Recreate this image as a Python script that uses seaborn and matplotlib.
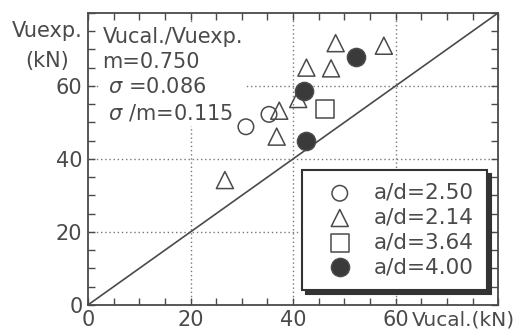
import numpy as np
import pandas as pd
import matplotlib
matplotlib.use('Agg')
import matplotlib.pyplot as plt
import seaborn as sns

# data
vcal_250 = [30.8, 35.3]
vexp_250 = [48.8, 52.2]
vcal_214 = [26.7, 36.8, 37.3, 41.0, 42.6, 47.4, 48.3, 57.7]
vexp_214 = [34.2, 46.1, 53.2, 56.4, 65.0, 64.8, 71.7, 71.0]
vcal_364 = [46.2]
vexp_364 = [53.6]
vcal_400 = [42.1, 42.5, 52.3]
vexp_400 = [58.7, 45.0, 67.9]

labels = ['a/d=2.50', 'a/d=2.14', 'a/d=3.64', 'a/d=4.00']
ticks = [0, 20, 40, 60]
stats_text = 'Vucal./Vuexp.\nm=0.750\n $\\sigma$ =0.086\n $\\sigma$ /m=0.115'

sns.set_theme(style='white')
plt.rcParams['font.family'] = ['DejaVu Sans']
plt.rcParams['mathtext.fontset'] = 'dejavusans'

grey = '#4a4a4a'
fig = plt.figure(figsize=(5.3, 3.3), dpi=100)
ax = fig.add_axes([0.166, 0.076, 0.774, 0.885])

ax.plot([0, 80], [0, 80], color=grey, lw=1.2, zorder=1)
for g in ticks[1:]:
    ax.axvline(g, color='#777777', lw=1.0, ls=(0, (1, 2)), zorder=0)
    ax.axhline(g, color='#777777', lw=1.0, ls=(0, (1, 2)), zorder=0)

df = pd.concat([
    pd.DataFrame({'x': vcal_250, 'y': vexp_250, 'g': labels[0]}),
    pd.DataFrame({'x': vcal_214, 'y': vexp_214, 'g': labels[1]}),
    pd.DataFrame({'x': vcal_364, 'y': vexp_364, 'g': labels[2]}),
    pd.DataFrame({'x': vcal_400, 'y': vexp_400, 'g': labels[3]}),
])

styles = {
    labels[0]: dict(marker='o', s=125, fc='none'),
    labels[1]: dict(marker='^', s=150, fc='none'),
    labels[2]: dict(marker='s', s=170, fc='none'),
    labels[3]: dict(marker='o', s=170, fc='#3a3a3a'),
}
for lab in labels:
    st = styles[lab]
    sub = df[df['g'] == lab]
    sns.scatterplot(data=sub, x='x', y='y', ax=ax, marker=st['marker'], s=st['s'],
                    facecolor=st['fc'], edgecolor=grey, linewidth=1.1,
                    label=lab, zorder=3)

ax.set_xlim(0, 80)
ax.set_ylim(0, 80)
ax.set_xticks(ticks)
ax.set_yticks(ticks)
ax.set_xticks(np.arange(0, 81, 5), minor=True)
ax.set_yticks(np.arange(0, 81, 5), minor=True)
ax.tick_params(which='both', direction='in', top=True, right=True, bottom=True, left=True,
               color=grey, width=1.0)
ax.tick_params(which='major', length=5, labelsize=15, labelcolor=grey)
ax.tick_params(axis='x', which='major', pad=4)
ax.tick_params(axis='y', which='major', pad=4)
ax.tick_params(which='minor', length=5)
ax.set_xlabel('')
ax.set_ylabel('')
for sp in ax.spines.values():
    sp.set_color(grey)
    sp.set_linewidth(1.3)

ax.text(0.035, 0.95, stats_text, transform=ax.transAxes, ha='left', va='top',
        fontsize=15, color=grey, linespacing=1.3, zorder=2,
        bbox=dict(facecolor='white', edgecolor='none', pad=2))

ax.text(0.79, -0.072, 'Vucal.(kN)', transform=ax.transAxes, ha='left', va='baseline',
        fontsize=14.5, color=grey)
fig.text(0.089, 0.935, 'Vuexp.\n(kN)', ha='center', va='top', fontsize=15,
         color=grey, linespacing=1.6)

leg = ax.legend(loc='lower right', bbox_to_anchor=(0.973, 0.051), frameon=True,
                fancybox=False, shadow={'ox': 3, 'oy': -3, 'color': '#333333', 'alpha': 1},
                fontsize=15.5, labelspacing=0.22, handletextpad=0.45, borderpad=0.6,
                handlelength=2.3, borderaxespad=0)
leg.get_frame().set_edgecolor('#333333')
leg.get_frame().set_linewidth(1.5)
for t in leg.get_texts():
    t.set_color(grey)

fig.savefig('out.png', dpi=100)
